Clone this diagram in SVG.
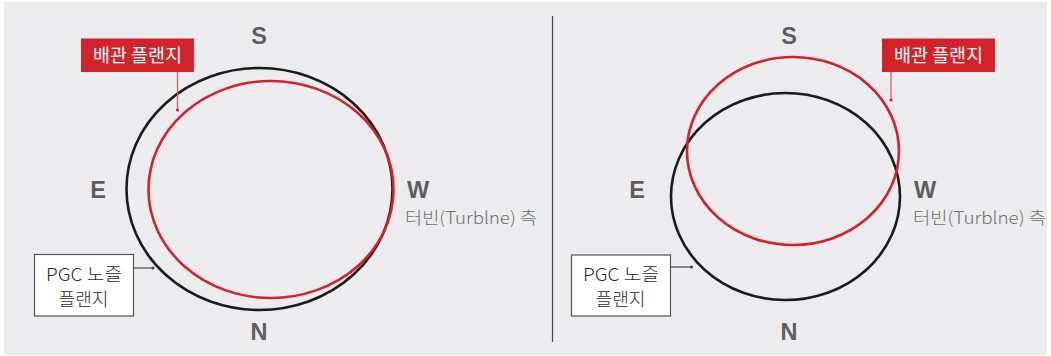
<svg xmlns="http://www.w3.org/2000/svg" width="1051" height="356" viewBox="0 0 1051 356">
<style>
.bg{fill:#ECECEE}
.blk{fill:none;stroke:#1B1B1B;stroke-width:2.6}
.red{fill:none;stroke:#D2232A;stroke-width:2.6}
.dir{font-family:"Liberation Sans",Arial,sans-serif;font-weight:bold;font-size:23.5px;fill:#5E5E5E;text-anchor:middle}
.side{font-family:"Noto Sans CJK KR","Noto Sans",sans-serif;font-size:17px;font-weight:300;fill:#707070}
.rbox{fill:#D2232A}
.rtxt{font-family:"Noto Sans CJK KR",sans-serif;font-size:18px;font-weight:400;fill:#FFFFFF;text-anchor:middle}
.wbox{fill:#FFFFFF;stroke:#555555;stroke-width:1.2}
.wtxt{font-family:"Noto Sans CJK KR",sans-serif;font-size:18px;font-weight:300;fill:#2A2A2A;text-anchor:middle}
.rlead{stroke:#DC5E66;stroke-width:1.3;fill:none}
.glead{stroke:#555555;stroke-width:1.3;fill:none}
.rdot{fill:#D2232A}
.gdot{fill:#444444}
</style>
<rect x="0" y="0" width="1051" height="356" fill="#FFFFFF"/>
<rect class="bg" x="4" y="2" width="1043" height="353"/>
<line x1="552.5" y1="16" x2="552.5" y2="342" stroke="#444444" stroke-width="1.2"/>

<g id="left-panel">
  <g id="left-pgc-flange"><ellipse class="blk" cx="259.5" cy="189" rx="133" ry="121"/></g>
  <g id="left-pipe-flange"><ellipse class="red" cx="271" cy="189.5" rx="122.5" ry="108.5"/></g>
  <g id="left-S"><text class="dir" x="259" y="44">S</text></g>
  <g id="left-E"><text class="dir" x="98" y="198">E</text></g>
  <g id="left-W"><text class="dir" x="418" y="198">W</text></g>
  <g id="left-N"><text class="dir" x="259" y="340">N</text></g>
  <g id="left-turbine"><text class="side" x="405" y="224" textLength="132" lengthAdjust="spacingAndGlyphs">터빈(Turblne) 측</text></g>
  <g id="left-pipe-label">
    <rect class="rbox" x="81" y="38.5" width="113" height="33.5"/>
    <text class="rtxt" x="137.5" y="62" textLength="89" lengthAdjust="spacingAndGlyphs">배관 플랜지</text>
  </g>
  <g id="left-pgc-label">
    <rect class="wbox" x="34.5" y="254.5" width="99" height="61.5"/>
    <text class="wtxt" x="84" y="281" textLength="76" lengthAdjust="spacingAndGlyphs">PGC 노즐</text>
    <text class="wtxt" x="83.5" y="305.5" textLength="50" lengthAdjust="spacingAndGlyphs">플랜지</text>
  </g>
</g>

<g id="right-panel">
  <g id="right-pgc-flange"><ellipse class="blk" cx="785.5" cy="196.5" rx="114.5" ry="103.5"/></g>
  <g id="right-pipe-flange"><ellipse class="red" cx="793" cy="151" rx="106" ry="94"/></g>
  <g id="right-S"><text class="dir" x="789" y="44">S</text></g>
  <g id="right-E"><text class="dir" x="637" y="198">E</text></g>
  <g id="right-W"><text class="dir" x="925" y="198">W</text></g>
  <g id="right-N"><text class="dir" x="789" y="340">N</text></g>
  <g id="right-turbine"><text class="side" x="913" y="224" textLength="133" lengthAdjust="spacingAndGlyphs">터빈(Turblne) 측</text></g>
  <g id="right-pipe-label">
    <rect class="rbox" x="882" y="38.5" width="113" height="33.5"/>
    <text class="rtxt" x="938.5" y="62" textLength="89" lengthAdjust="spacingAndGlyphs">배관 플랜지</text>
  </g>
  <g id="right-pgc-label">
    <rect class="wbox" x="571.5" y="255" width="99" height="61"/>
    <text class="wtxt" x="621" y="281" textLength="76" lengthAdjust="spacingAndGlyphs">PGC 노즐</text>
    <text class="wtxt" x="620.5" y="305.5" textLength="50" lengthAdjust="spacingAndGlyphs">플랜지</text>
  </g>
</g>

<g id="connectors">
  <line class="rlead" x1="177.5" y1="72" x2="177.5" y2="110"/>
  <circle class="rdot" cx="177.5" cy="110" r="1.6"/>
  <line class="glead" x1="133.5" y1="268" x2="153" y2="268"/>
  <circle class="gdot" cx="153" cy="268" r="1.6"/>
  <line class="rlead" x1="891" y1="72" x2="891" y2="100"/>
  <circle class="rdot" cx="891" cy="100" r="1.6"/>
  <line class="glead" x1="670.5" y1="267" x2="691.5" y2="267"/>
  <circle class="gdot" cx="691.5" cy="267" r="1.6"/>
</g>
</svg>
